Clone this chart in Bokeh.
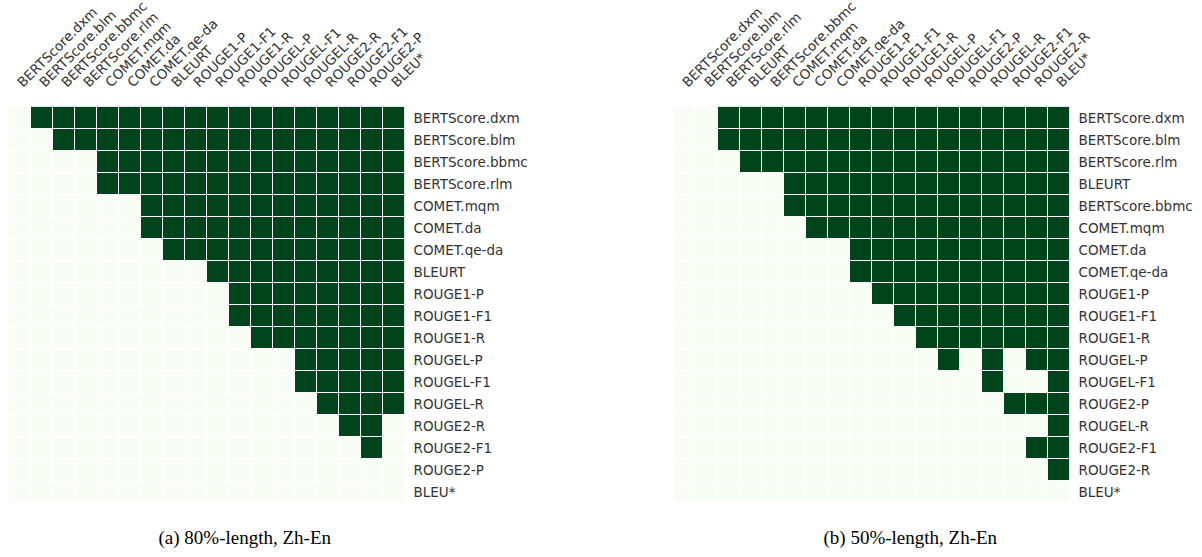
import math
from bokeh.plotting import figure
from bokeh.layouts import row
from bokeh.models import ColumnDataSource, Title
from bokeh.embed import file_html
from bokeh.resources import INLINE

# ---------------- data ----------------
labels_a = ["BERTScore.dxm", "BERTScore.blm", "BERTScore.bbmc", "BERTScore.rlm",
            "COMET.mqm", "COMET.da", "COMET.qe-da", "BLEURT",
            "ROUGE1-P", "ROUGE1-F1", "ROUGE1-R", "ROUGEL-P", "ROUGEL-F1",
            "ROUGEL-R", "ROUGE2-R", "ROUGE2-F1", "ROUGE2-P", "BLEU*"]

matrix_a = [
    [0,1,1,1,1,1,1,1,1,1,1,1,1,1,1,1,1,1],
    [0,0,1,1,1,1,1,1,1,1,1,1,1,1,1,1,1,1],
    [0,0,0,0,1,1,1,1,1,1,1,1,1,1,1,1,1,1],
    [0,0,0,0,1,1,1,1,1,1,1,1,1,1,1,1,1,1],
    [0,0,0,0,0,0,1,1,1,1,1,1,1,1,1,1,1,1],
    [0,0,0,0,0,0,1,1,1,1,1,1,1,1,1,1,1,1],
    [0,0,0,0,0,0,0,1,1,1,1,1,1,1,1,1,1,1],
    [0,0,0,0,0,0,0,0,0,1,1,1,1,1,1,1,1,1],
    [0,0,0,0,0,0,0,0,0,0,1,1,1,1,1,1,1,1],
    [0,0,0,0,0,0,0,0,0,0,1,1,1,1,1,1,1,1],
    [0,0,0,0,0,0,0,0,0,0,0,1,1,1,1,1,1,1],
    [0,0,0,0,0,0,0,0,0,0,0,0,0,1,1,1,1,1],
    [0,0,0,0,0,0,0,0,0,0,0,0,0,1,1,1,1,1],
    [0,0,0,0,0,0,0,0,0,0,0,0,0,0,1,1,1,1],
    [0,0,0,0,0,0,0,0,0,0,0,0,0,0,0,1,1,0],
    [0,0,0,0,0,0,0,0,0,0,0,0,0,0,0,0,1,0],
    [0,0,0,0,0,0,0,0,0,0,0,0,0,0,0,0,0,0],
    [0,0,0,0,0,0,0,0,0,0,0,0,0,0,0,0,0,0],
]

labels_b = ["BERTScore.dxm", "BERTScore.blm", "BERTScore.rlm", "BLEURT",
            "BERTScore.bbmc", "COMET.mqm", "COMET.da", "COMET.qe-da",
            "ROUGE1-P", "ROUGE1-F1", "ROUGE1-R", "ROUGEL-P", "ROUGEL-F1",
            "ROUGE2-P", "ROUGEL-R", "ROUGE2-F1", "ROUGE2-R", "BLEU*"]

matrix_b = [
    [0,0,1,1,1,1,1,1,1,1,1,1,1,1,1,1,1,1],
    [0,0,1,1,1,1,1,1,1,1,1,1,1,1,1,1,1,1],
    [0,0,0,1,1,1,1,1,1,1,1,1,1,1,1,1,1,1],
    [0,0,0,0,0,1,1,1,1,1,1,1,1,1,1,1,1,1],
    [0,0,0,0,0,1,1,1,1,1,1,1,1,1,1,1,1,1],
    [0,0,0,0,0,0,1,1,1,1,1,1,1,1,1,1,1,1],
    [0,0,0,0,0,0,0,0,1,1,1,1,1,1,1,1,1,1],
    [0,0,0,0,0,0,0,0,1,1,1,1,1,1,1,1,1,1],
    [0,0,0,0,0,0,0,0,0,1,1,1,1,1,1,1,1,1],
    [0,0,0,0,0,0,0,0,0,0,1,1,1,1,1,1,1,1],
    [0,0,0,0,0,0,0,0,0,0,0,1,1,1,1,1,1,1],
    [0,0,0,0,0,0,0,0,0,0,0,0,1,0,1,0,1,1],
    [0,0,0,0,0,0,0,0,0,0,0,0,0,0,1,0,0,1],
    [0,0,0,0,0,0,0,0,0,0,0,0,0,0,0,1,1,1],
    [0,0,0,0,0,0,0,0,0,0,0,0,0,0,0,0,0,1],
    [0,0,0,0,0,0,0,0,0,0,0,0,0,0,0,0,1,1],
    [0,0,0,0,0,0,0,0,0,0,0,0,0,0,0,0,0,1],
    [0,0,0,0,0,0,0,0,0,0,0,0,0,0,0,0,0,0],
]

caption_a = "(a) 80%-length, Zh-En"
caption_b = "(b) 50%-length, Zh-En"

# ---------------- styling ----------------
LOW = "#f7fcf5"
HIGH = "#00441b"
TICK_FONT = "DejaVu Sans"
TICK_COLOR = "#333333"
FRAME = 396


def heatmap(labels, matrix, caption, left, right):
    xs, ys, colors = [], [], []
    for i, r in enumerate(labels):
        for j, c in enumerate(labels):
            xs.append(c)
            ys.append(r)
            colors.append(HIGH if matrix[i][j] else LOW)
    src = ColumnDataSource(dict(x=xs, y=ys, color=colors))

    p = figure(frame_width=FRAME, frame_height=FRAME,
               x_range=labels, y_range=list(reversed(labels)),
               x_axis_location="above", y_axis_location="right",
               output_backend="svg", toolbar_location=None,
               min_border_left=left, min_border_right=right,
               min_border_top=106, min_border_bottom=0)
    p.rect(x="x", y="y", width=1, height=1, source=src,
           fill_color="color", line_color="white", line_width=1)

    p.grid.visible = False
    p.outline_line_color = None
    p.background_fill_color = "white"
    for ax in p.axis:
        ax.axis_line_color = None
        ax.major_tick_line_color = None
        ax.minor_tick_line_color = None
        ax.major_tick_out = 0
        ax.major_tick_in = 0
        ax.major_label_text_font = TICK_FONT
        ax.major_label_text_color = TICK_COLOR
    p.xaxis.major_label_text_font_size = "13.5px"
    p.xaxis.major_label_text_line_height = 1.0
    p.xaxis.major_label_orientation = math.pi / 4
    p.xaxis.major_label_standoff = 22
    p.yaxis.major_label_text_font_size = "13.5px"
    p.yaxis.major_label_standoff = 9

    p.add_layout(Title(text=caption, align="left", offset=150,
                       text_font="Liberation Serif", text_font_size="19px",
                       text_font_style="normal", text_color="black",
                       text_line_height=1.0, standoff=45), "below")
    return p


p1 = heatmap(labels_a, matrix_a, caption_a, 8, 156)
p2 = heatmap(labels_b, matrix_b, caption_b, 113, 130)

layout = row(p1, p2, margin=(-11, 0, 0, 0))
open("out.html", "w").write(file_html(layout, INLINE))
